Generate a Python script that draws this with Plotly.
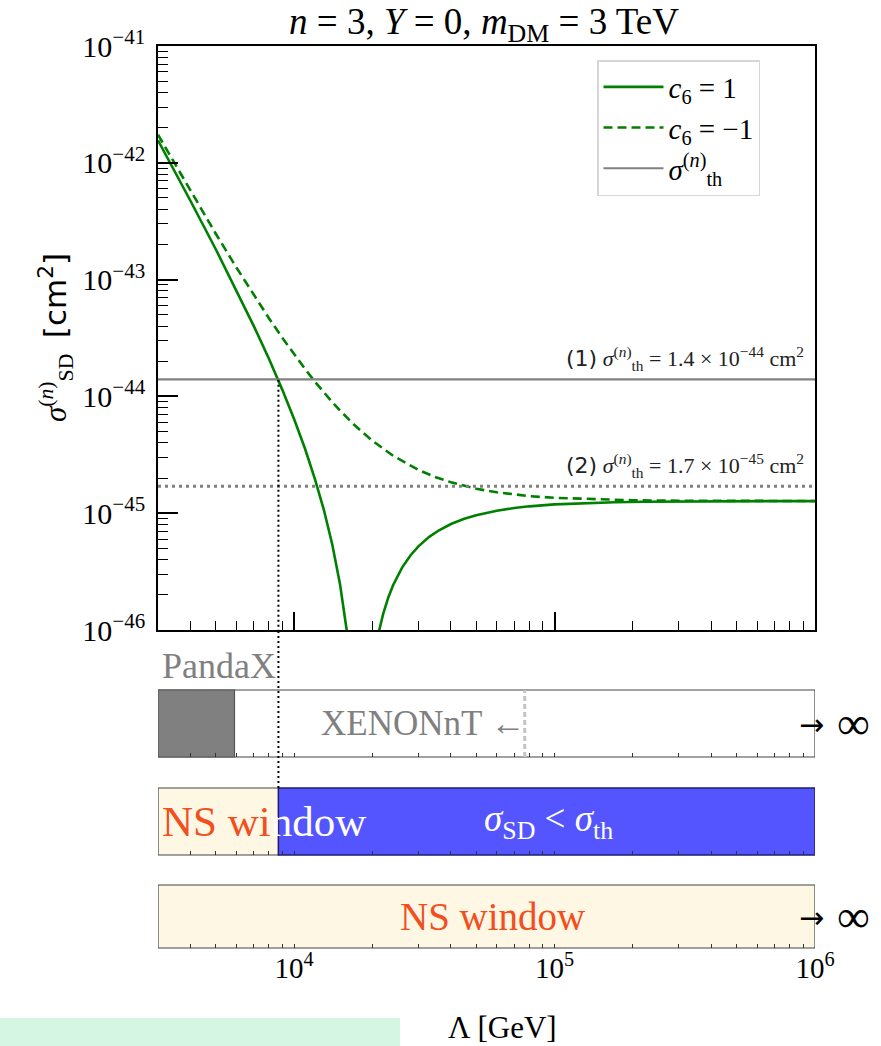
import math
import plotly.graph_objects as go

# ---------------- data ----------------
lam_c6_pos = [3000, 3500, 4000, 5000, 6000, 7000, 8000, 8700, 9000, 10000, 11000, 12000,
              13000, 14000, 15000, 15900, 16500, 20000, 21200, 22000, 23000, 24000, 26000,
              28000, 30000, 33000, 36000, 40000, 45000, 50000, 60000, 70000, 80000, 100000,
              130000, 170000, 220000, 300000, 450000, 650000, 1000000]
sigma_c6_pos = [1.556e-42, 8.23e-43, 4.71e-43, 1.82e-43, 8.13e-44, 4.0e-44, 2.10e-44, 1.367e-44,
                1.143e-44, 6.37e-45, 3.58e-45, 1.98e-45, 1.07e-45, 5.42e-46, 2.46e-46, 1.01e-46,
                4.6e-47, 4.6e-47, 9.9e-47, 1.39e-46, 1.91e-46, 2.43e-46, 3.44e-46, 4.37e-46,
                5.2e-46, 6.27e-46, 7.14e-46, 8.08e-46, 8.96e-46, 9.62e-46, 1.05e-45, 1.108e-45,
                1.145e-45, 1.19e-45, 1.222e-45, 1.242e-45, 1.253e-45, 1.261e-45, 1.266e-45,
                1.268e-45, 1.27e-45]

lam_c6_neg = [3000, 3500, 4000, 5000, 6000, 7000, 8000, 9000, 10000, 11000, 12000, 13000,
              14000, 15000, 17000, 20000, 24000, 30000, 35000, 40000, 50000, 60000, 80000,
              100000, 150000, 200000, 300000, 500000, 1000000]
sigma_c6_neg = [1.739e-42, 9.57e-43, 5.74e-43, 2.47e-43, 1.27e-43, 7.36e-44, 4.67e-44, 3.18e-44,
                2.28e-44, 1.72e-44, 1.34e-44, 1.08e-44, 8.94e-45, 7.56e-45, 5.71e-45, 4.16e-45,
                3.10e-45, 2.35e-45, 2.03e-45, 1.84e-45, 1.62e-45, 1.51e-45, 1.40e-45, 1.354e-45,
                1.307e-45, 1.291e-45, 1.279e-45, 1.273e-45, 1.271e-45]

sigma_th_names = ["(1)", "(2)"]
sigma_th_mant = [1.4, 1.7]
sigma_th_exp = [-44, -45]

lambda_range = [3000, 1000000]
lambda_cross = 8700        # c6 = 1 curve crosses sigma_th (1)
pandax_limit = 5900
xenon_limit = 76800

ytick_exp = [-46, -45, -44, -43, -42, -41]
xtick_exp = [4, 5, 6]

# ---------------- styling / layout helpers ----------------
W, H = 881, 1046
L, R, T, B = 158, 815, 46, 948


def px_x(p):
    return (p - L) / (R - L)


def px_y(p):
    return (B - p) / (B - T)


SERIF = "Liberation Serif"
SANS = "DejaVu Sans"
GREEN = "#008000"
GRAY = "#808080"
ORANGE = "#F24E1E"
YELLOW = "#FDF7E3"
BLUE = "#5555FF"

dom_main = [px_y(630), 1.0]
dom_p1 = [px_y(757), px_y(690)]
dom_p2 = [px_y(855), px_y(788)]
dom_p3 = [0.0, px_y(885)]

sigma_th = [m * 10.0 ** e for m, e in zip(sigma_th_mant, sigma_th_exp)]

fig = go.Figure()

fig.add_trace(go.Scatter(x=lam_c6_pos, y=sigma_c6_pos, mode="lines",
                         line=dict(color=GREEN, width=2.6),
                         name="<i>c</i><sub>6</sub> = 1", xaxis="x", yaxis="y"))
fig.add_trace(go.Scatter(x=lam_c6_neg, y=sigma_c6_neg, mode="lines",
                         line=dict(color=GREEN, width=2.6, dash="9px,5px"),
                         name="<i>c</i><sub>6</sub> = −1", xaxis="x", yaxis="y"))
fig.add_trace(go.Scatter(x=lambda_range, y=[sigma_th[0]] * 2, mode="lines",
                         line=dict(color=GRAY, width=2.2),
                         name="<i>σ</i><sup>(<i>n</i>)</sup><sub>th</sub>", xaxis="x", yaxis="y"))
fig.add_trace(go.Scatter(x=lambda_range, y=[sigma_th[1]] * 2, mode="lines",
                         line=dict(color=GRAY, width=3, dash="3px,4px"),
                         showlegend=False, xaxis="x", yaxis="y"))
# vertical dotted line inside the main panel
fig.add_trace(go.Scatter(x=[lambda_cross, lambda_cross], y=[1e-47, sigma_th[0]], mode="lines",
                         line=dict(color="black", width=2, dash="2px,3px"),
                         showlegend=False, xaxis="x", yaxis="y"))

# invisible traces so that the panel axes exist
for k in (2, 3, 4):
    fig.add_trace(go.Scatter(x=lambda_range, y=[0.5, 0.5], mode="lines",
                             line=dict(width=0), opacity=0, showlegend=False, hoverinfo="skip",
                             xaxis=f"x{k}", yaxis=f"y{k}"))

x_minor = [k * 10.0 ** e for e in range(3, 6) for k in range(2, 10)
           if lambda_range[0] <= k * 10.0 ** e <= lambda_range[1]]
y_minor = [k * 10.0 ** e for e in range(-46, -41) for k in range(2, 10)]

xlog_range = [math.log10(lambda_range[0]), math.log10(lambda_range[1])]
xticks = [10.0 ** e for e in xtick_exp]
xticktext = [f"10<sup>{e}</sup>" for e in xtick_exp]

main_x = dict(type="log", range=xlog_range, domain=[0, 1], anchor="y",
              showline=True, mirror=True, linecolor="black", linewidth=1.6,
              ticks="inside", ticklen=18, tickwidth=1.6, tickcolor="black",
              tickmode="array", tickvals=xticks, showticklabels=False, showgrid=False,
              zeroline=False,
              minor=dict(tickmode="array", tickvals=x_minor, ticks="inside", ticklen=9,
                         tickwidth=1.2, tickcolor="black", showgrid=False))

main_y = dict(type="log", range=[-46, -41], domain=dom_main, anchor="x",
              showline=True, mirror=True, linecolor="black", linewidth=1.6,
              ticks="inside", ticklen=20, tickwidth=1.6, tickcolor="black",
              tickmode="array", tickvals=[10.0 ** e for e in ytick_exp],
              ticktext=[f"10<sup>−{-e}</sup>" for e in ytick_exp],
              tickfont=dict(family=SERIF, size=30, color="black"),
              ticklabelstandoff=5, showgrid=False, zeroline=False,
              minor=dict(tickmode="array", tickvals=y_minor, ticks="inside", ticklen=10,
                         tickwidth=1.2, tickcolor="black", showgrid=False))


def panel_x(anchor, labels):
    return dict(type="log", range=xlog_range, domain=[0, 1], anchor=anchor, matches="x",
                showline=False, ticks="inside", ticklen=4, tickwidth=1.2, tickcolor="#333",
                tickmode="array", tickvals=xticks, ticktext=xticktext,
                showticklabels=labels, tickfont=dict(family=SERIF, size=29, color="black"),
                showgrid=False, zeroline=False,
                minor=dict(tickmode="array", tickvals=x_minor, ticks="inside", ticklen=4,
                           tickwidth=1.2, tickcolor="#333", showgrid=False))


def panel_y(dom, anchor):
    return dict(range=[0, 1], domain=dom, anchor=anchor, showline=False, showticklabels=False,
                ticks="", showgrid=False, zeroline=False, fixedrange=True)


fig.update_layout(
    width=W, height=H,
    margin=dict(l=L, r=W - R, t=T, b=H - B),
    paper_bgcolor="white", plot_bgcolor="rgba(0,0,0,0)",
    xaxis=main_x, yaxis=main_y,
    xaxis2=panel_x("y2", False), yaxis2=panel_y(dom_p1, "x2"),
    xaxis3=panel_x("y3", False), yaxis3=panel_y(dom_p2, "x3"),
    xaxis4=panel_x("y4", True), yaxis4=panel_y(dom_p3, "x4"),
    title=dict(text="<i>n</i> = 3, <i>Y</i> = 0, <i>m</i><sub>DM</sub> = 3 TeV",
               font=dict(family=SERIF, size=37, color="black"),
               x=px_x(484), xref="paper", xanchor="center",
               y=1 - 21 / H, yref="container", yanchor="middle"),
    legend=dict(x=px_x(597), y=px_y(60), xanchor="left", yanchor="top",
                bgcolor="white", bordercolor="#d6d6d6", borderwidth=1.5,
                font=dict(family=SERIF, size=29, color="black"),
                itemwidth=60, tracegroupgap=0),
    showlegend=True,
)

shapes = []
# panel 1: PandaX / XENONnT
shapes.append(dict(type="rect", xref="x2", yref="y2 domain", x0=lambda_range[0], x1=lambda_range[1],
                   y0=0, y1=1, fillcolor="white", line=dict(color="#444", width=1.2), layer="below"))
shapes.append(dict(type="rect", xref="x2", yref="y2 domain", x0=lambda_range[0], x1=pandax_limit,
                   y0=0, y1=1, fillcolor=GRAY, line=dict(color="#555", width=1.2), layer="below"))
shapes.append(dict(type="line", xref="x2", yref="y2 domain", x0=xenon_limit, x1=xenon_limit,
                   y0=0, y1=1, line=dict(color="#c4c4c4", width=3, dash="5px,3px")))
# panel 2: NS window / sigma_SD < sigma_th
shapes.append(dict(type="rect", xref="x3", yref="y3 domain", x0=lambda_range[0], x1=lambda_cross,
                   y0=0, y1=1, fillcolor=YELLOW, line=dict(color="#444", width=1.2), layer="below"))
shapes.append(dict(type="rect", xref="x3", yref="y3 domain", x0=lambda_cross, x1=lambda_range[1],
                   y0=0, y1=1, fillcolor=BLUE, line=dict(color="#1e1e6e", width=1.4), layer="below"))
# panel 3: NS window
shapes.append(dict(type="rect", xref="x4", yref="y4 domain", x0=lambda_range[0], x1=lambda_range[1],
                   y0=0, y1=1, fillcolor=YELLOW, line=dict(color="#444", width=1.2), layer="below"))
# dotted line continuing through the gap down to panel 2
shapes.append(dict(type="line", xref="x", yref="paper", x0=lambda_cross, x1=lambda_cross,
                   y0=dom_p2[1], y1=dom_main[0], line=dict(color="black", width=2, dash="2px,3px")))
# light green strip at the bottom-left corner
shapes.append(dict(type="rect", xref="paper", yref="paper", x0=px_x(0), x1=px_x(400),
                   y0=px_y(1046), y1=px_y(1018), fillcolor="#d5f6e2", line=dict(width=0),
                   layer="below"))
fig.update_layout(shapes=shapes)

ann = []
for name, m, e, v in zip(sigma_th_names, sigma_th_mant, sigma_th_exp, sigma_th):
    ann.append(dict(xref="paper", yref="y", x=px_x(806), y=math.log10(v), xanchor="right",
                    yanchor="bottom", yshift=3, showarrow=False,
                    text=(f'<span style="font-family:{SANS}">{name}</span> '
                          f'<i>σ</i><sup>(<i>n</i>)</sup><sub>th</sub> = {m} × 10<sup>−{-e}</sup> cm<sup>2</sup>'),
                    font=dict(family=SERIF, size=22, color="#222")))

ann.append(dict(xref="x", yref="paper", x=math.log10(lambda_range[0]), y=px_y(666),
                xanchor="left", yanchor="middle", xshift=2, showarrow=False, text="PandaX",
                font=dict(family=SERIF, size=36, color=GRAY)))
ann.append(dict(xref="x", yref="y2 domain", x=math.log10(xenon_limit), y=0.5,
                xanchor="right", yanchor="middle", xshift=2, showarrow=False,
                text="XENONnT ←",
                font=dict(family=SERIF, size=35, color=GRAY)))
for yr in ("y2 domain", "y4 domain"):
    ann.append(dict(xref="paper", yref=yr, x=px_x(797), y=0.5, xanchor="left",
                    yanchor="middle", yshift=-1, showarrow=False, text="→",
                    font=dict(family=SANS, size=30, color="black")))
    ann.append(dict(xref="paper", yref=yr, x=px_x(835), y=0.5, xanchor="left",
                    yanchor="middle", showarrow=False, text="∞",
                    font=dict(family=SERIF, size=46, color="black")))
ann.append(dict(xref="x", yref="y3 domain", x=math.log10(lambda_range[0]), y=0.5,
                xanchor="left", yanchor="middle", xshift=2, showarrow=False,
                text=f'<span style="color:{ORANGE}">NS wi</span><span style="color:white">ndow</span>',
                font=dict(family=SERIF, size=43, color=ORANGE)))
ann.append(dict(xref="paper", yref="y3 domain", x=px_x(548), y=0.5, xanchor="center",
                yanchor="middle", showarrow=False,
                text="<i>σ</i><sub>SD</sub> &lt; <i>σ</i><sub>th</sub>",
                font=dict(family=SERIF, size=37, color="white")))
ann.append(dict(xref="paper", yref="y4 domain", x=px_x(492), y=0.5, xanchor="center",
                yanchor="middle", showarrow=False, text="NS window",
                font=dict(family=SERIF, size=39, color=ORANGE)))
# axis titles
ann.append(dict(xref="paper", yref="paper", x=px_x(502), y=px_y(1027), xanchor="center",
                yanchor="middle", showarrow=False, text="Λ [GeV]",
                font=dict(family=SERIF, size=31, color="black")))
ann.append(dict(xref="paper", yref="paper", x=px_x(55), y=px_y(338), xanchor="center",
                yanchor="middle", showarrow=False, textangle=-90,
                text=(f'<i>σ</i><sup>(<i>n</i>)</sup><sub>SD</sub>  '
                      f'<span style="font-family:{SANS}">[cm<sup>2</sup>]</span>'),
                font=dict(family=SERIF, size=31, color="black")))
fig.update_layout(annotations=ann)

fig.write_html("out.html", config={"displayModeBar": False},
               post_script="document.body.style.margin='0';")
